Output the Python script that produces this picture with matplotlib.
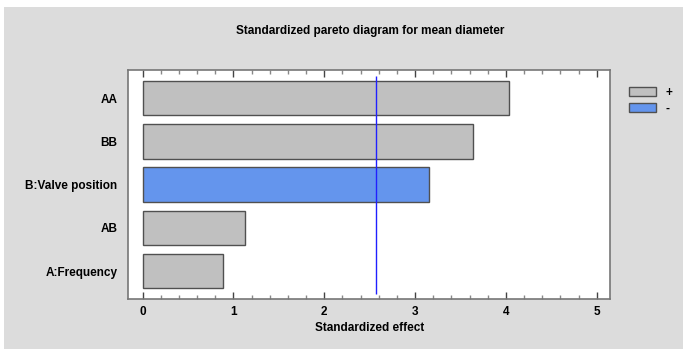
import matplotlib.pyplot as plt
from matplotlib.patches import Rectangle, Patch
from matplotlib.ticker import MultipleLocator

# data (bottom to top)
factors = ["A:Frequency", "AB", "B:Valve position", "BB", "AA"]
effects = [0.88, 1.13, 3.15, 3.64, 4.03]
signs = ["+", "+", "-", "+", "+"]
critical = 2.571

GRAY = "#c0c0c0"
BLUE = "#6495ed"

plt.rcParams["font.family"] = ["Liberation Sans", "DejaVu Sans"]
plt.rcParams["font.weight"] = "bold"

fig = plt.figure(figsize=(6.83, 3.49), dpi=100)
fig.patches.append(Rectangle((4 / 683, 0), 1, (349 - 7) / 349, transform=fig.transFigure,
                             facecolor="#dcdcdc", edgecolor="none", zorder=-10))

ax = fig.add_axes([0.1881, 0.1424, 0.7057, 0.657])
ax.set_facecolor("white")

colors = [GRAY if s == "+" else BLUE for s in signs]
ypos = list(range(len(factors)))
ax.barh(ypos, effects, height=0.8, color=colors, edgecolor="#505050", linewidth=1.0, zorder=2)
ax.vlines(critical, -0.52, 4.5, color="#2020ff", linewidth=1.0, zorder=3)

ax.set_xlim(-0.156, 5.152)
ax.set_ylim(-0.65, 4.65)
ax.set_yticks(ypos)
ax.set_yticklabels(factors, fontsize=8.5, fontweight="bold")
ax.tick_params(axis="y", length=0, pad=8)
ax.xaxis.set_major_locator(MultipleLocator(1))
ax.xaxis.set_minor_locator(MultipleLocator(0.2))
ax.tick_params(axis="x", which="both", direction="in", top=True, labelsize=8.5,
               colors="#444444", labelcolor="black", pad=5)
ax.tick_params(axis="x", which="major", length=5, width=1)
ax.tick_params(axis="x", which="minor", length=3, width=1, colors="#888888")
for lbl in ax.get_xticklabels():
    lbl.set_fontweight("bold")
for sp in ax.spines.values():
    sp.set_color("#777777")
    sp.set_linewidth(1.2)

ax.set_xlabel("Standardized effect", fontsize=8.5, fontweight="bold", labelpad=3)

fig.text(0.5417, 0.911, "Standardized pareto diagram for mean diameter",
         ha="center", va="center", fontsize=8.5, fontweight="bold")

handles = [Patch(facecolor=GRAY, edgecolor="#505050", label="+"),
           Patch(facecolor=BLUE, edgecolor="#505050", label="-")]
fig.legend(handles=handles, loc="upper left", bbox_to_anchor=(0.914, 0.765),
           frameon=False, fontsize=8.5, handlelength=2.3, handleheight=0.75,
           labelspacing=0.35, handletextpad=0.8, borderaxespad=0)

fig.savefig("out.png", dpi=100)
